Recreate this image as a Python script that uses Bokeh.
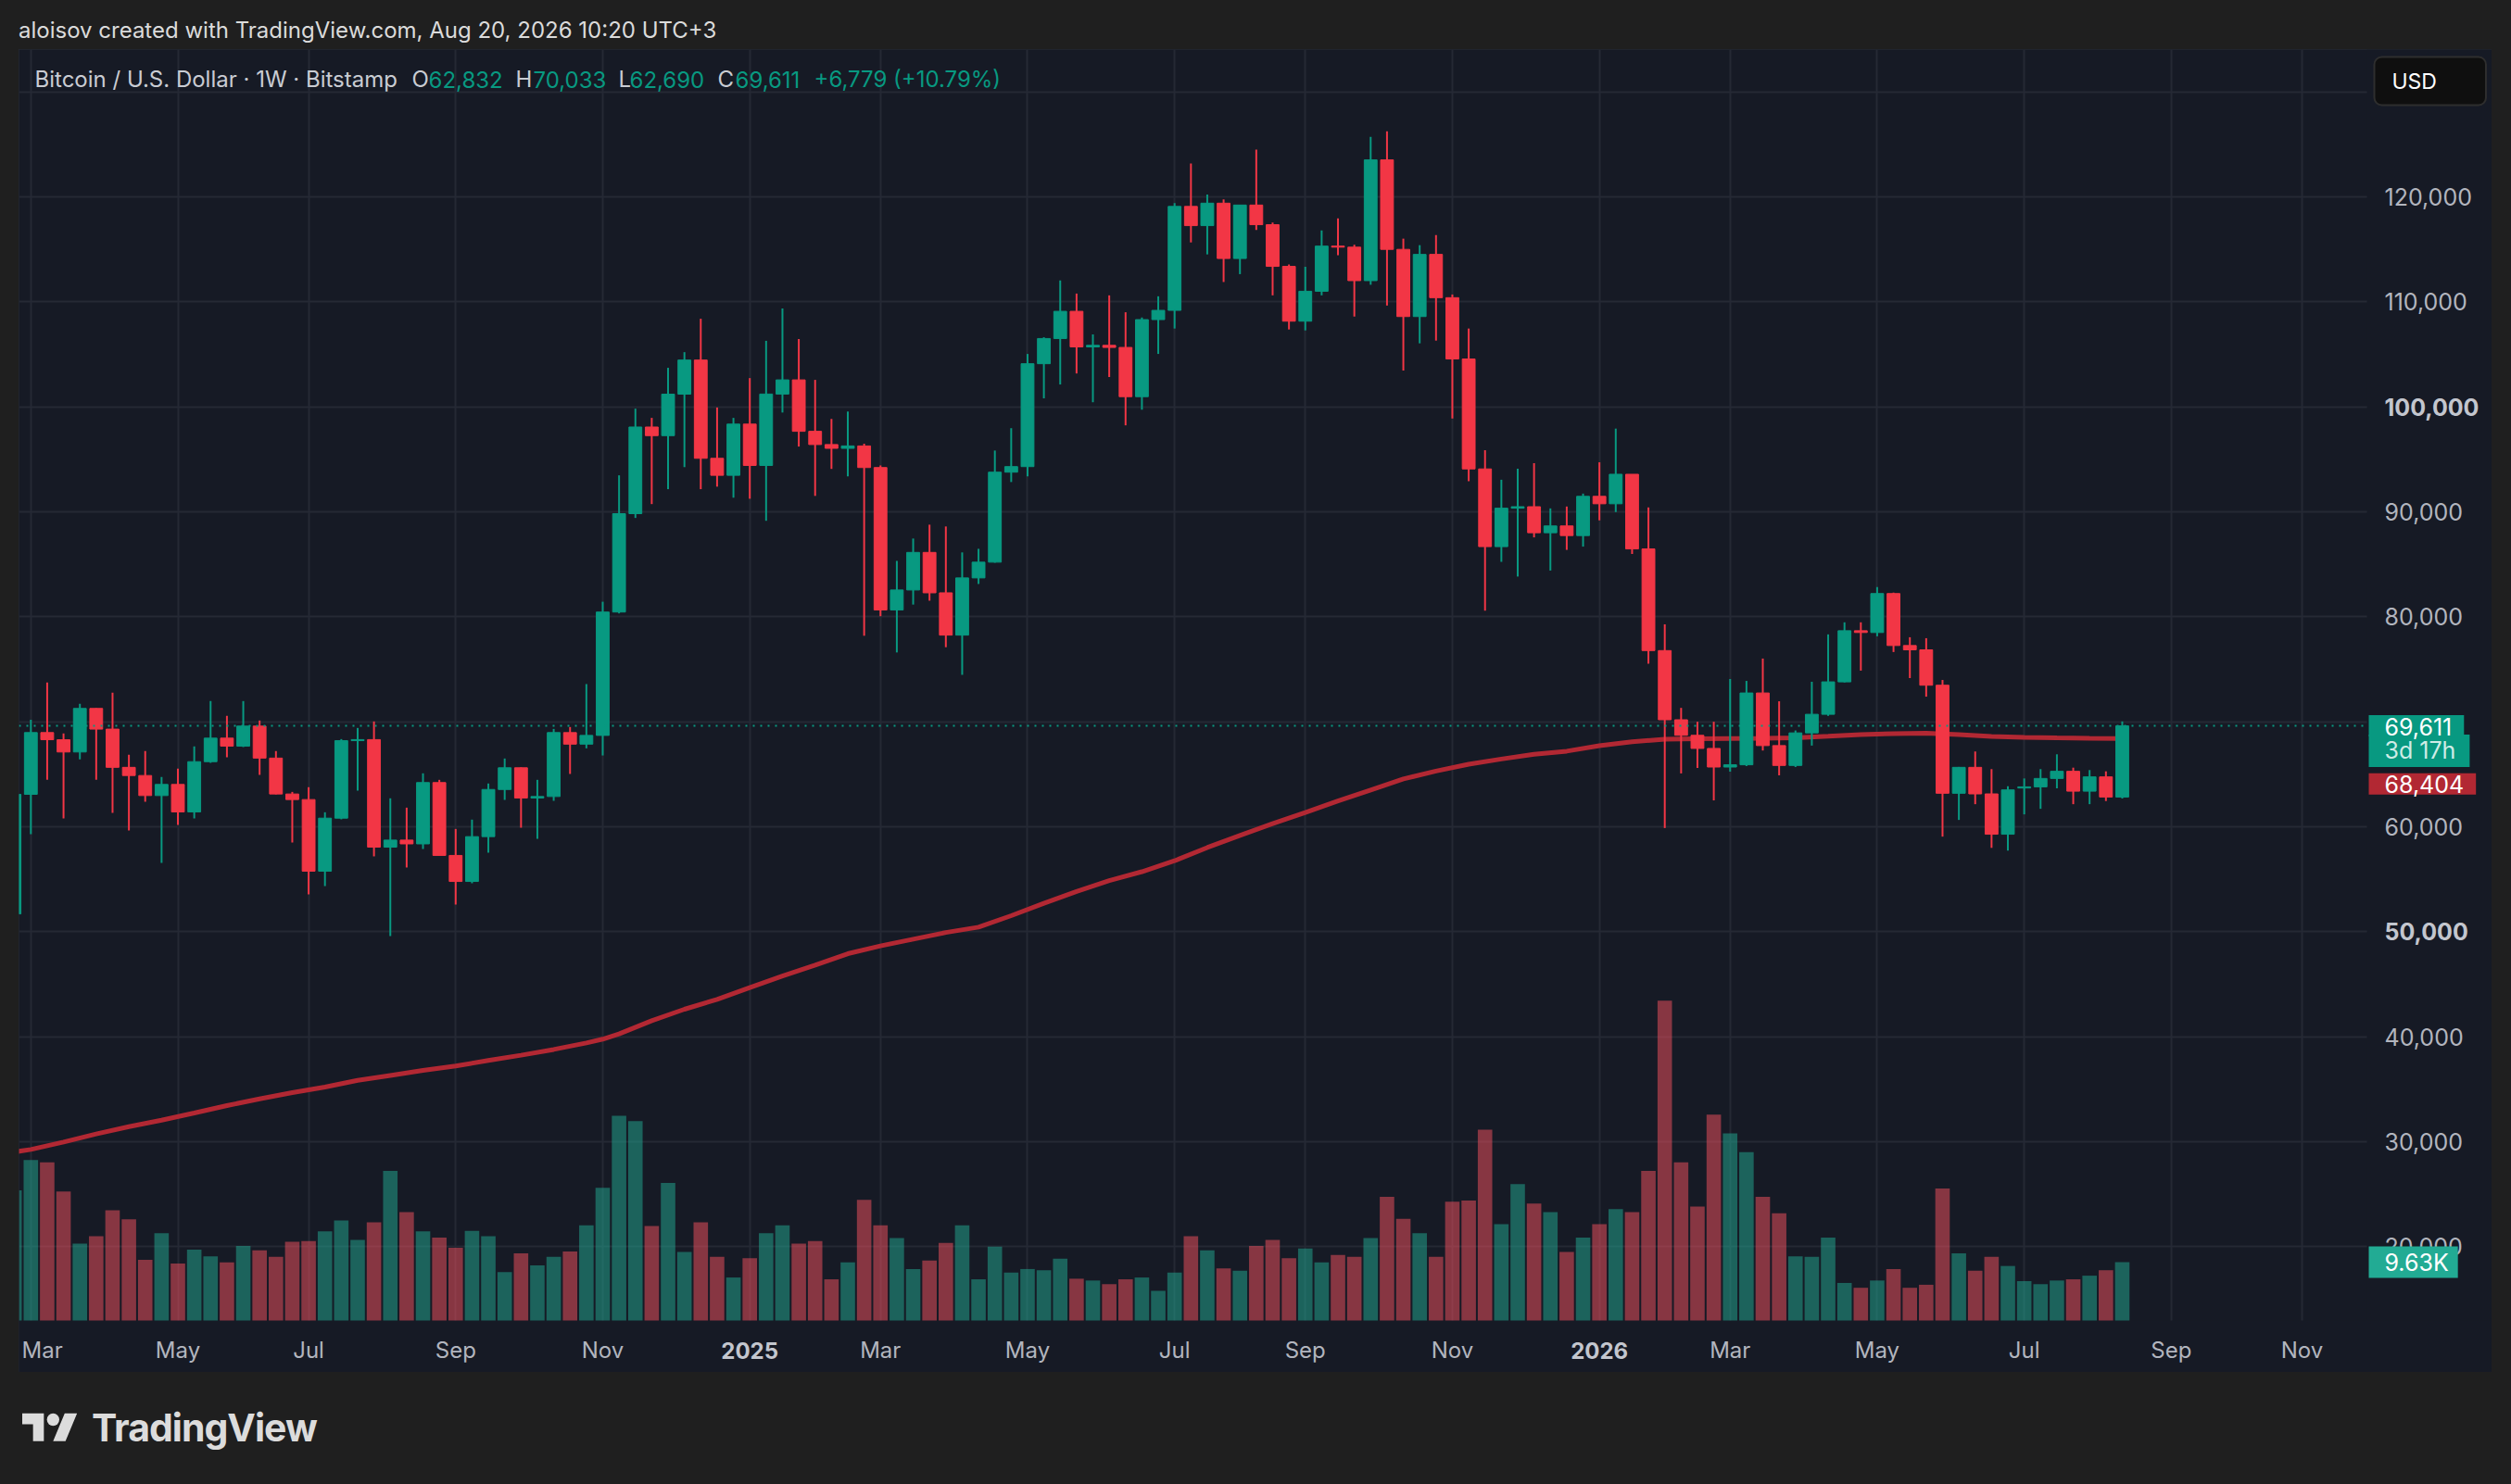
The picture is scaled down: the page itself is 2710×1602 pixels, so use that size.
import pandas as pd
from bokeh.plotting import figure
from bokeh.models import (Range1d, FixedTicker, Label, Div, Spacer, Grid,
                          BoxAnnotation, ColumnDataSource)
from bokeh.layouts import column, row
from bokeh.embed import file_html
from bokeh.resources import INLINE
from bokeh.core.properties import value

# ------------------------------------------------------------------ data
week_start = "2024-02-26"      # first (partly hidden) weekly bar
n_weeks = 130

opens = [
    51700, 63090, 68970, 68290, 67120, 71270, 69300, 65660, 64880, 62970,
    64030, 61410, 66200, 68440, 67680, 69590, 66540, 63120, 62590, 55770,
    60820, 68200, 68300, 58060, 58730, 58370, 64210, 57270, 54790, 59060,
    63550, 65620, 62740, 62880, 68970, 67870, 68700, 80450, 89820, 98070,
    97250, 101200, 104450, 95090, 93470, 98350, 94410, 101210, 102560, 97660,
    96400, 96040, 96270, 94210, 80650, 82550, 86130, 82280, 78250, 83700,
    85200, 93770, 94300, 104100, 106500, 109090, 105700, 105850, 105650, 100960,
    108300, 109180, 119080, 117250, 119390, 114120, 119210, 117340, 113370, 108150,
    111000, 115300, 115200, 112010, 123510, 114990, 108590, 114510, 110390, 104550,
    94080, 86680, 90340, 90480, 88000, 88650, 87730, 91470, 90760, 93570,
    86460, 76780, 70190, 68710, 67460, 65690, 65900, 72740, 67730, 65840,
    68940, 70710, 73800, 78670, 78500, 82210, 77260, 76850, 73480, 63190,
    65660, 63130, 59290, 63690, 63800, 64600, 65280, 63390, 64750, 62832]

highs = [
    64000, 70200, 73740, 68880, 71710, 71300, 72770, 66850, 67210, 64740,
    65530, 67650, 71970, 70560, 71970, 70120, 67210, 63320, 63770, 61380,
    68350, 69410, 70030, 62710, 61820, 65090, 64470, 59790, 60680, 64120,
    66500, 65650, 64470, 69320, 69500, 73590, 81430, 93470, 99820, 98940,
    103710, 105200, 108380, 99930, 98940, 102730, 106280, 109360, 106450, 102560,
    98840, 99550, 96480, 94410, 85320, 87450, 88770, 88600, 86130, 86470,
    95830, 97960, 105030, 106620, 112030, 110780, 106890, 110610, 109000, 108500,
    110520, 119390, 123160, 120220, 119740, 119210, 124480, 117540, 113550, 113330,
    116800, 117940, 115430, 125710, 126230, 116010, 115390, 116360, 110690, 107450,
    95860, 93050, 94100, 94630, 90320, 90500, 91730, 94710, 97920, 93570,
    90410, 79280, 71320, 70000, 70000, 74070, 73890, 76020, 71950, 69170,
    73810, 78320, 79470, 79470, 82830, 82300, 78050, 77960, 73980, 65700,
    67170, 65490, 63860, 64600, 65490, 66900, 65630, 65400, 65280, 70033]

lows = [
    50900, 59300, 64470, 60790, 66410, 64470, 61320, 59650, 62380, 56560,
    60180, 60790, 66090, 66620, 67590, 64940, 63090, 58500, 53560, 54350,
    60710, 63440, 57180, 49590, 56120, 57880, 57270, 52590, 54620, 57530,
    62560, 59910, 58850, 62470, 65030, 67470, 66790, 80320, 89410, 90730,
    92150, 94250, 92150, 92390, 91340, 91240, 89140, 99450, 96210, 91510,
    94080, 93370, 78190, 80050, 76600, 81160, 81530, 77100, 74470, 83120,
    85150, 92830, 93370, 100800, 102120, 103170, 100430, 102830, 98230, 99720,
    105030, 107450, 115650, 114510, 111880, 112630, 116840, 110610, 107360, 107270,
    110610, 114430, 108590, 111620, 109640, 103450, 106040, 106300, 98880, 92910,
    80580, 85230, 83830, 87560, 84400, 86370, 86680, 89180, 89970, 85980,
    75530, 59880, 65080, 65600, 62510, 65250, 65780, 67260, 64900, 65690,
    67730, 70560, 73750, 74870, 78140, 76640, 74160, 72390, 59060, 60650,
    62150, 57990, 57730, 61180, 61710, 63660, 62150, 62150, 62450, 62690]

closes = [
    63090, 68970, 68290, 67120, 71270, 69300, 65660, 64880, 62970, 64030,
    61410, 66200, 68440, 67680, 69590, 66540, 63120, 62590, 55770, 60820,
    68200, 68300, 58060, 58730, 58370, 64210, 57270, 54790, 59060, 63550,
    65620, 62740, 62880, 68970, 67870, 68700, 80450, 89820, 98070, 97250,
    101200, 104450, 95090, 93470, 98350, 94410, 101210, 102560, 97660, 96400,
    96040, 96270, 94210, 80650, 82550, 86130, 82280, 78250, 83700, 85200,
    93770, 94300, 104100, 106500, 109090, 105700, 105850, 105650, 100960, 108300,
    109180, 119080, 117250, 119390, 114120, 119210, 117340, 113370, 108150, 111000,
    115300, 115200, 112010, 123510, 114990, 108590, 114510, 110390, 104550, 94080,
    86680, 90340, 90480, 88000, 88650, 87730, 91470, 90760, 93570, 86460,
    76780, 70190, 68710, 67460, 65690, 65900, 72740, 67730, 65840, 68940,
    70710, 73800, 78670, 78500, 82210, 77260, 76850, 73480, 63190, 65660,
    63130, 59290, 63510, 63800, 64600, 65280, 63390, 64750, 62832, 69611]

volumes_k = [
    21.5, 26.5, 26.1, 21.3, 12.7, 13.9, 18.2, 16.7, 10.0, 14.4,
    9.4, 11.7, 10.6, 9.6, 12.3, 11.6, 10.5, 13.0, 13.1, 14.7,
    16.5, 13.3, 16.2, 24.7, 17.9, 14.7, 13.7, 12.0, 14.8, 13.9,
    8.0, 11.1, 9.1, 10.5, 11.4, 15.7, 21.9, 33.8, 32.9, 15.6,
    22.7, 11.3, 16.2, 10.5, 7.1, 10.3, 14.4, 15.7, 12.7, 13.1,
    6.8, 9.6, 19.9, 15.7, 13.6, 8.5, 9.9, 12.8, 15.7, 6.8,
    12.2, 7.9, 8.5, 8.3, 10.2, 6.9, 6.6, 6.0, 6.8, 7.1,
    4.9, 7.9, 13.9, 11.6, 8.6, 8.2, 12.3, 13.3, 10.3, 11.9,
    9.6, 10.8, 10.5, 13.6, 20.4, 16.8, 14.4, 10.5, 19.6, 19.8,
    31.5, 15.9, 22.5, 19.3, 17.9, 11.3, 13.7, 15.9, 18.4, 17.9,
    24.7, 52.8, 26.1, 18.8, 34.0, 30.9, 27.8, 20.4, 17.7, 10.6,
    10.5, 13.7, 6.2, 5.4, 6.6, 8.5, 5.4, 5.9, 21.8, 11.1,
    8.2, 10.5, 9.0, 6.5, 6.0, 6.6, 6.8, 7.4, 8.3, 9.63]

# moving average line at sample weeks
ma_dates = [
    "2024-02-26", "2024-03-04", "2024-03-18", "2024-04-01", "2024-04-15", "2024-04-29",
    "2024-05-13", "2024-05-27", "2024-06-10", "2024-06-24", "2024-07-08", "2024-07-22",
    "2024-08-05", "2024-08-19", "2024-09-02", "2024-09-16", "2024-09-30", "2024-10-14",
    "2024-10-28", "2024-11-04", "2024-11-11", "2024-11-25", "2024-12-09", "2024-12-23",
    "2025-01-06", "2025-01-20", "2025-02-03", "2025-02-17", "2025-03-03", "2025-03-17",
    "2025-03-31", "2025-04-14", "2025-04-28", "2025-05-12", "2025-05-26", "2025-06-09",
    "2025-06-23", "2025-07-07", "2025-07-21", "2025-08-04", "2025-08-18", "2025-09-01",
    "2025-09-15", "2025-09-29", "2025-10-13", "2025-10-27", "2025-11-10", "2025-11-24",
    "2025-12-08", "2025-12-22", "2026-01-05", "2026-01-19", "2026-02-02", "2026-02-16",
    "2026-03-02", "2026-03-16", "2026-03-30", "2026-04-13", "2026-04-27", "2026-05-11",
    "2026-05-25", "2026-06-08", "2026-06-22", "2026-07-06", "2026-07-20", "2026-08-03",
    "2026-08-17"]
ma_values = [
    29030, 29265, 29970, 30740, 31440, 32060,
    32740, 33440, 34090, 34680, 35210, 35850,
    36320, 36790, 37210, 37740, 38240, 38790,
    39410, 39770, 40270, 41530, 42620, 43560,
    44680, 45790, 46820, 47910, 48650, 49290,
    49930, 50440, 51530, 52710, 53840, 54870,
    55720, 56760, 58020, 59170, 60300, 61360,
    62450, 63500, 64550, 65300, 65950, 66450,
    66900, 67200, 67720, 68100, 68330, 68380,
    68400, 68420, 68480, 68620, 68780, 68870,
    68900, 68780, 68600, 68520, 68460, 68420,
    68404]

tick_dates = ["2024-03-04", "2024-05-06", "2024-07-01", "2024-09-02", "2024-11-04",
              "2025-01-06", "2025-03-03", "2025-05-05", "2025-07-07", "2025-09-01",
              "2025-11-03", "2026-01-05", "2026-03-02", "2026-05-04", "2026-07-06",
              "2026-09-07", "2026-11-02"]
tick_labels = ["Mar", "May", "Jul", "Sep", "Nov", "2025", "Mar", "May", "Jul", "Sep",
               "Nov", "2026", "Mar", "May", "Jul", "Sep", "Nov"]
year_labels = ["2025", "2026"]

price_ticks = [20000, 30000, 40000, 50000, 60000, 70000, 80000, 90000,
               100000, 110000, 120000, 130000]
# 70,000 and 130,000 are hidden behind the price / currency boxes in the reference
labelled_prices = [20000, 30000, 40000, 50000, 60000, 80000, 90000,
                   100000, 110000, 120000]
bold_prices = [100000, 50000]

last_close = 69611
ma_last = 68404
last_volume_k = 9.63
countdown = "3d 17h"

header_text = "aloisov created with TradingView.com, Aug 20, 2026 10:20 UTC+3"
legend_parts = [  # (text, colour key, offset px from plot left)
    ("Bitcoin / U.S. Dollar \u00b7 1W \u00b7 Bitstamp", "t", 17),
    ("O", "t", 424), ("62,832", "g", 442),
    ("H", "t", 536), ("70,033", "g", 555),
    ("L", "t", 647), ("62,690", "g", 659),
    ("C", "t", 754), ("69,611", "g", 773),
    ("+6,779 (+10.79%)", "g", 858),
]

# ------------------------------------------------------------------ style
FONT = "Inter"
NAVY = "#161a25"
GRID = "#252934"
UP = "#089981"
DOWN = "#f23645"
VUP = "#22ab94"
VDOWN = "#f7525f"
MA = "#b22833"
AXIS_TXT = "#b2b5be"
BOLD_TXT = "#c3c6ce"
LEG_TXT = "#c9ccd3"

DAY = 86400000

# ------------------------------------------------------------------ geometry of the panel
FIG_W, FIG_H = 2669, 1428        # whole chart panel (plot + price scale + time scale)
PLOT_W, PLOT_H = 2534, 1372      # candle area inside it
X_PER_PX = 7 * DAY / 17.634      # one weekly bar = 17.634 px
Y_PER_PX = 10000 / 113.35        # 10,000 USD = 113.35 px
V_PER_PX = 1 / 6.54              # 1K volume = 6.54 px


def ms(d):
    return pd.Timestamp(d).value // 10**6


x_start = ms(tick_dates[0]) - 12.8 * X_PER_PX
x_end = x_start + FIG_W * X_PER_PX
x_edge = x_start + PLOT_W * X_PER_PX           # right edge of the candle area
y_hi = 120000 + 158.9 * Y_PER_PX
y_lo = y_hi - FIG_H * Y_PER_PX
y_base = y_hi - PLOT_H * Y_PER_PX              # bottom edge of the candle area
y_time = y_hi - 1404 * Y_PER_PX                # centre line of the time labels

dates = pd.date_range(week_start, periods=n_weeks, freq="7D")
is_up = [c >= o for o, c in zip(opens, closes)]
src = ColumnDataSource(dict(
    x=dates, high=highs, low=lows,
    top=[max(o, c) for o, c in zip(opens, closes)],
    bottom=[min(o, c) for o, c in zip(opens, closes)],
    vol=volumes_k,
    color=[UP if u else DOWN for u in is_up],
    vcolor=[VUP if u else VDOWN for u in is_up],
))

p = figure(width=FIG_W, height=FIG_H, x_axis_type="datetime",
           x_axis_location=None, y_axis_location=None,
           x_range=Range1d(x_start, x_end), y_range=Range1d(y_lo, y_hi),
           output_backend="svg", toolbar_location=None, min_border=0,
           background_fill_color=NAVY, border_fill_color=NAVY,
           outline_line_color=None)
p.extra_y_ranges = {"vol": Range1d(-56 * V_PER_PX, PLOT_H * V_PER_PX)}
p.styles = {"outline": "2px solid #2a2e39", "outline-offset": "-2px"}
p.center = [r for r in p.center if not isinstance(r, Grid)]

# grid lines (limited to the candle area by the two cover boxes)
p.add_layout(Grid(dimension=0, ticker=FixedTicker(ticks=[ms(d) for d in tick_dates]),
                  grid_line_color=GRID, grid_line_width=2))
p.add_layout(Grid(dimension=1, ticker=FixedTicker(ticks=price_ticks),
                  grid_line_color=GRID, grid_line_width=2))
p.add_layout(BoxAnnotation(left=x_edge, fill_color=NAVY, fill_alpha=1.0,
                           line_color=None, level="underlay"))
p.add_layout(BoxAnnotation(top=y_base, fill_color=NAVY, fill_alpha=1.0,
                           line_color=None, level="underlay"))

# volume
p.vbar(x="x", top="vol", bottom=0, width=6.2 * DAY, source=src, y_range_name="vol",
       fill_color="vcolor", fill_alpha=0.5, line_color=None)
# moving average
p.line(x=pd.to_datetime(ma_dates), y=ma_values, line_color=MA, line_width=5)
# candles
p.segment(x0="x", y0="low", x1="x", y1="high", line_color="color", line_width=2, source=src)
p.vbar(x="x", top="top", bottom="bottom", width=5.5 * DAY, source=src,
       fill_color="color", line_color="color", line_width=1)
# last price line
p.line(x=[x_start, x_edge], y=[last_close, last_close], line_color=UP,
       line_width=2, line_dash="2 6")

# price scale labels
normal_prices = [v for v in labelled_prices if v not in bold_prices]
p.text(x=[x_edge] * len(normal_prices), y=normal_prices,
       text=[f"{v:,}" for v in normal_prices], x_offset=19,
       text_font=value(FONT), text_font_size="25px", text_color=AXIS_TXT,
       text_align="left", text_baseline="middle")
p.text(x=[x_edge] * len(bold_prices), y=bold_prices,
       text=[f"{v:,}" for v in bold_prices], x_offset=19,
       text_font=value(FONT), text_font_size="25px", text_font_style="bold",
       text_color=BOLD_TXT, text_align="left", text_baseline="middle")

# time scale labels (the first one is kept inside the panel edge)
months = [(ms(d), lab) for d, lab in zip(tick_dates, tick_labels) if lab not in year_labels]
years = [(ms(d), lab) for d, lab in zip(tick_dates, tick_labels) if lab in year_labels]
first_ms, first_lab = months[0]
p.text(x=[x_start], y=[y_time], text=[first_lab], x_offset=3,
       text_font=value(FONT), text_font_size="24px", text_color=AXIS_TXT,
       text_align="left", text_baseline="middle")
p.text(x=[m for m, _ in months[1:]], y=[y_time] * (len(months) - 1),
       text=[lab for _, lab in months[1:]],
       text_font=value(FONT), text_font_size="24px", text_color=AXIS_TXT,
       text_align="center", text_baseline="middle")
p.text(x=[m for m, _ in years], y=[y_time] * len(years), text=[lab for _, lab in years],
       text_font=value(FONT), text_font_size="24px", text_font_style="bold",
       text_color=BOLD_TXT, text_align="center", text_baseline="middle")

# legend line (top-left)
for txt, ck, off in legend_parts:
    p.add_layout(Label(x=x_start, y=y_hi, x_offset=off, y_offset=-32, text=txt,
                       text_font=FONT, text_font_size="24px",
                       text_color=(UP if ck == "g" else LEG_TXT),
                       text_align="left", text_baseline="middle"))

# currency box
p.add_layout(Label(x=x_edge, y=y_hi, x_offset=8, y_offset=-34, text="USD",
                   text_font=FONT, text_font_size="23px", text_color="#ffffff",
                   text_align="left", text_baseline="middle",
                   background_fill_color="#0f0f0f", border_line_color="#2e2e2e",
                   border_line_width=2, border_radius=8,
                   padding=dict(left=19, right=53, top=12, bottom=12)))

# last price / countdown box
p.add_layout(Label(x=x_edge, y=last_close, x_offset=2, y_offset=-27, text=countdown,
                   text_font=FONT, text_font_size="25px", text_color="#cfece6",
                   text_align="left", text_baseline="middle",
                   background_fill_color=UP,
                   padding=dict(left=17, right=15, top=2, bottom=3)))
p.add_layout(Label(x=x_edge, y=last_close, x_offset=2, text=f"{last_close:,}",
                   text_font=FONT, text_font_size="25px", text_color="#ffffff",
                   text_align="left", text_baseline="middle",
                   background_fill_color=UP,
                   padding=dict(left=17, right=13, top=3, bottom=1)))
# moving average value box
p.add_layout(Label(x=x_edge, y=ma_last, x_offset=2, y_offset=-49, text=f"{ma_last:,}",
                   text_font=FONT, text_font_size="25px", text_color="#ffffff",
                   text_align="left", text_baseline="middle",
                   background_fill_color=MA,
                   padding=dict(left=17, right=13, top=2, bottom=2)))
# volume value box
p.add_layout(Label(x=x_edge, y=last_volume_k, y_range_name="vol", x_offset=2,
                   text=f"{last_volume_k:.2f}K", text_font=FONT, text_font_size="25px",
                   text_color="#ffffff", text_align="left", text_baseline="middle",
                   background_fill_color=VUP,
                   padding=dict(left=17, right=10, top=2, bottom=2)))

header = Div(text=(f'<div style="position:absolute;left:12px;top:13px;white-space:nowrap;'
                   f'font-family:{FONT};font-size:24px;line-height:1;color:#dbdbdb">'
                   f'{header_text}</div>'),
             width=2694, height=45, margin=0)

logo_svg = ('<svg width="60" height="47" viewBox="0 0 36 28" xmlns="http://www.w3.org/2000/svg">'
            '<path d="M14 22H7V11H0V4h14v18zM28 22h-8l7.5-18h8L28 22z" fill="#dcdcdc"/>'
            '<circle cx="20" cy="8" r="4" fill="#dcdcdc"/></svg>')
footer = Div(text=(f'<div style="position:absolute;left:16px;top:38px">{logo_svg}</div>'
                   f'<div style="position:absolute;left:91px;top:40px;white-space:nowrap;'
                   f'font-family:{FONT};font-weight:700;font-size:41px;line-height:1;'
                   f'letter-spacing:-1px;color:#dcdcdc">TradingView</div>'),
             width=2694, height=113, margin=0)

layout = column(header, row(Spacer(width=12, height=FIG_H), p), footer)

html = file_html(layout, INLINE, title="BTCUSD weekly")
html = html.replace("</head>",
                    "<style>html,body{background:#1f1f1f;} body{margin:8px;}</style></head>", 1)
with open("out.html", "w") as f:
    f.write(html)
